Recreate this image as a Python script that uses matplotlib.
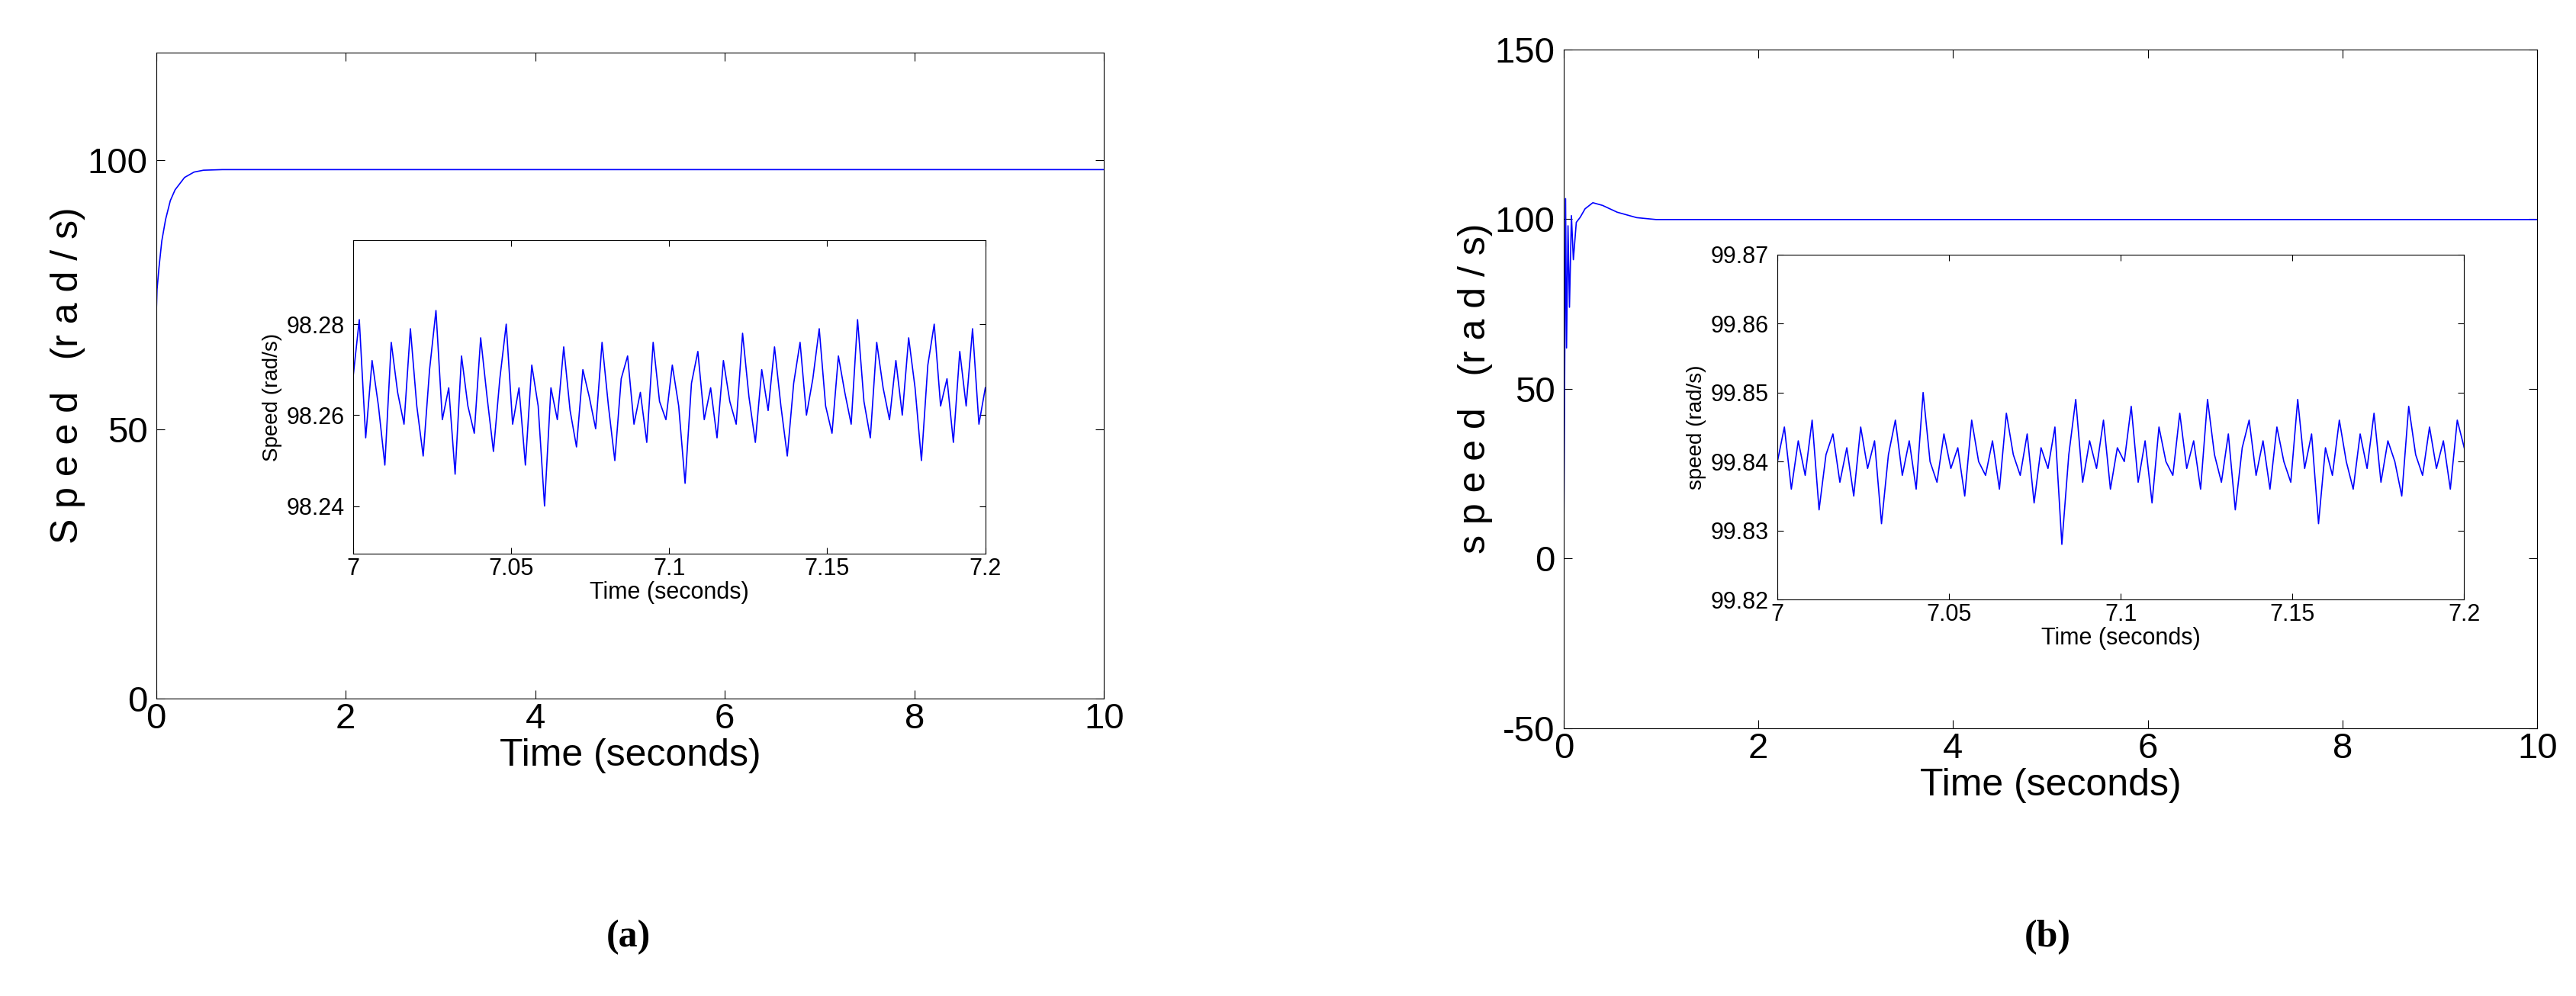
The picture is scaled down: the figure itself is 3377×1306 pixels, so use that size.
import numpy as np
import matplotlib.pyplot as plt

plt.rcParams['font.family'] = ['Liberation Sans Narrow', 'Liberation Sans', 'DejaVu Sans']
plt.rcParams['axes.unicode_minus'] = False

# main traces (a) and (b)
t_a = [0, 0.003, 0.01, 0.03, 0.06, 0.1, 0.15, 0.2, 0.3, 0.4, 0.5, 0.7, 10]
speed_a = [0, 72, 76, 80, 85, 89, 92.5, 94.5, 96.8, 97.8, 98.15, 98.26, 98.26]
t_b = [0, 0.01, 0.02, 0.03, 0.045, 0.06, 0.08, 0.1, 0.13, 0.17, 0.22, 0.3, 0.4, 0.55, 0.75, 0.95, 10]
speed_b = [0, 50, 106, 62, 98, 74, 101, 88, 99, 100.5, 103, 104.8, 104, 102, 100.4, 99.84, 99.84]

# zoomed steady-state ripple
ripple_a = [98.268, 98.281, 98.255, 98.272, 98.262, 98.249, 98.276, 98.265, 98.258, 98.279,
            98.262, 98.251, 98.270, 98.283, 98.259, 98.266, 98.247, 98.273, 98.262, 98.256,
            98.277, 98.264, 98.252, 98.268, 98.280, 98.258, 98.266, 98.249, 98.271, 98.262,
            98.240, 98.266, 98.259, 98.275, 98.261, 98.253, 98.270, 98.264, 98.257, 98.276,
            98.262, 98.250, 98.268, 98.273, 98.258, 98.265, 98.254, 98.276, 98.263, 98.259,
            98.271, 98.262, 98.245, 98.267, 98.274, 98.259, 98.266, 98.255, 98.272, 98.263,
            98.258, 98.278, 98.264, 98.254, 98.270, 98.261, 98.275, 98.262, 98.251, 98.267,
            98.276, 98.260, 98.268, 98.279, 98.262, 98.256, 98.273, 98.265, 98.258, 98.281,
            98.263, 98.255, 98.276, 98.266, 98.259, 98.272, 98.260, 98.277, 98.266, 98.250,
            98.271, 98.280, 98.262, 98.268, 98.254, 98.274, 98.262, 98.279, 98.258, 98.266]
ripple_b = [99.840, 99.845, 99.836, 99.843, 99.838, 99.846, 99.833, 99.841, 99.844, 99.837,
            99.842, 99.835, 99.845, 99.839, 99.843, 99.831, 99.841, 99.846, 99.838, 99.843,
            99.836, 99.850, 99.840, 99.837, 99.844, 99.839, 99.842, 99.835, 99.846, 99.840,
            99.838, 99.843, 99.836, 99.847, 99.841, 99.838, 99.844, 99.834, 99.842, 99.839,
            99.845, 99.828, 99.841, 99.849, 99.837, 99.843, 99.839, 99.846, 99.836, 99.842,
            99.840, 99.848, 99.837, 99.843, 99.834, 99.845, 99.840, 99.838, 99.847, 99.839,
            99.843, 99.836, 99.849, 99.841, 99.837, 99.844, 99.833, 99.842, 99.846, 99.838,
            99.843, 99.836, 99.845, 99.840, 99.837, 99.849, 99.839, 99.844, 99.831, 99.842,
            99.838, 99.846, 99.840, 99.836, 99.844, 99.839, 99.847, 99.837, 99.843, 99.840,
            99.835, 99.848, 99.841, 99.838, 99.845, 99.839, 99.843, 99.836, 99.846, 99.842]

blue = '#0000ff'
fig = plt.figure(figsize=(33.77, 13.06), dpi=100)

def main_axes(pos, t, s, ylim, yticks, ylabel):
    ax = fig.add_axes(pos)
    ax.plot(t, s, color=blue, lw=1.2)
    ax.set_xlim(0, 10)
    ax.set_ylim(*ylim)
    ax.set_xticks([0, 2, 4, 6, 8, 10])
    ax.set_yticks(yticks)
    ax.tick_params(labelsize=34, direction='in', length=8, top=True, right=True)
    ax.tick_params(axis='x', pad=4)
    ax.tick_params(axis='y', pad=8)
    ax.set_xlabel('Time (seconds)', fontsize=36, labelpad=2)
    ax.set_ylabel(ylabel, fontsize=36, labelpad=2)
    return ax

def inset_axes(pos, r, ylim, yticks, ylabel):
    ax = fig.add_axes(pos)
    ax.plot(np.linspace(7, 7.2, len(r)), r, color=blue, lw=1.2)
    ax.set_xlim(7, 7.2)
    ax.set_ylim(*ylim)
    ax.set_xticks([7, 7.05, 7.1, 7.15, 7.2])
    ax.set_xticklabels(['7', '7.05', '7.1', '7.15', '7.2'])
    ax.set_yticks(yticks)
    ax.tick_params(labelsize=22, direction='in', length=6, top=True, right=True)
    ax.tick_params(axis='y', pad=8)
    ax.set_xlabel('Time (seconds)', fontsize=22, labelpad=1)
    ax.set_ylabel(ylabel, fontsize=20)
    return ax

main_axes([0.0606, 0.2987, 0.368, 0.6485], t_a, speed_a, (0, 120), [0, 50, 100], 'S p e e d   (r a d / s)')
inset_axes([0.137, 0.444, 0.2455, 0.315], ripple_a, (98.2295, 98.2985),
           [98.24, 98.26, 98.28], 'Speed (rad/s)')
main_axes([0.607, 0.269, 0.378, 0.6815], t_b, speed_b, (-50, 150), [-50, 0, 50, 100, 150], 's p e e d   (r a d / s)')
inset_axes([0.69, 0.398, 0.2666, 0.3465], ripple_b, (99.82, 99.87),
           [99.82, 99.83, 99.84, 99.85, 99.86, 99.87], 'speed (rad/s)')

fig.text(0.244, 0.05, '(a)', fontsize=36, fontweight='bold', family='Liberation Serif', ha='center')
fig.text(0.795, 0.05, '(b)', fontsize=36, fontweight='bold', family='Liberation Serif', ha='center')

fig.savefig('out.png', dpi=100)
